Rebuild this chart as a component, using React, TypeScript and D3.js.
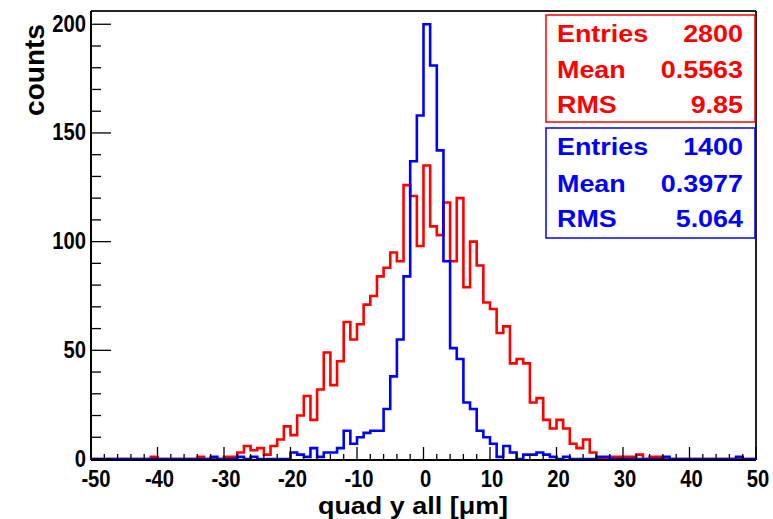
import React from "react";
import * as d3 from "d3";

// bin lower edges run from -50 to 49 (bin width 1)
const binStart = -50;
const binWidth = 1;

const redCounts = [
  0, 0, 0, 0, 0, 0, 0, 0, 0, 1,
  0, 0, 0, 0, 0, 0, 1, 0, 0, 0,
  1, 1, 3, 6, 4, 5, 2, 6, 9, 15,
  11, 20, 29, 18, 32, 49, 34, 45, 63, 55,
  62, 71, 75, 84, 88, 95, 91, 126, 121, 98,
  135, 107, 103, 118, 91, 120, 79, 100, 89, 72,
  69, 58, 61, 44, 46, 44, 26, 28, 18, 14,
  18, 14, 7, 5, 9, 3, 0, 0, 1, 1,
  1, 1, 2, 0, 1, 1, 0, 0, 0, 0,
  0, 0, 0, 0, 0, 0, 0, 0, 0, 0,
];

const blueCounts = [
  0, 0, 0, 0, 0, 0, 0, 0, 0, 0,
  0, 0, 0, 0, 0, 0, 0, 0, 1, 0,
  0, 0, 1, 0, 1, 0, 0, 0, 0, 0,
  3, 2, 1, 5, 1, 3, 3, 5, 13, 7,
  10, 12, 13, 13, 23, 38, 55, 84, 137, 158,
  200, 181, 142, 91, 51, 46, 26, 23, 13, 10,
  7, 1, 6, 3, 0, 2, 2, 3, 2, 1,
  0, 1, 0, 0, 0, 0, 1, 1, 0, 0,
  0, 0, 0, 0, 0, 0, 1, 0, 0, 0,
  0, 0, 0, 0, 0, 0, 0, 1, 0, 0,
];

const xMajorTicks = [-50, -40, -30, -20, -10, 0, 10, 20, 30, 40, 50];
const yMajorTicks = [0, 50, 100, 150, 200];

const redStats = [
  ["Entries", "2800"],
  ["Mean", "0.5563"],
  ["RMS", "9.85"],
];
const blueStats = [
  ["Entries", "1400"],
  ["Mean", "0.3977"],
  ["RMS", "5.064"],
];

const xTitle = "quad y all [\u03bcm]";
const yTitle = "counts";

const W = 773;
const H = 519;
const FX0 = 91;
const FX1 = 756;
const FY0 = 459;
const FY1 = 11;

const FONT = "'Liberation Sans', Arial, Helvetica, sans-serif";

function stepPath(counts: number[], x: d3.ScaleLinear<number, number>, y: d3.ScaleLinear<number, number>) {
  const pts: [number, number][] = [];
  counts.forEach((c, i) => {
    const lo = binStart + i * binWidth;
    pts.push([x(lo), y(c)]);
    pts.push([x(lo + binWidth), y(c)]);
  });
  return d3.line()(pts) || "";
}

export default function App() {
  const x = d3.scaleLinear().domain([-50, 50]).range([FX0, FX1]);
  const y = d3.scaleLinear().domain([0, 206.1]).range([FY0, FY1]);

  const xMinor = d3.range(-50, 50.001, 2);
  const yMinor = d3.range(0, 206, 10);

  const statBox = (stats: string[][], color: string, top: number, bottom: number, baselines: number[]) => (
    <g>
      <rect x={546} y={top} width={209} height={bottom - top} fill="white" stroke={color} strokeWidth={1.5} />
      {stats.map((s, i) => (
        <g key={i}>
          <text
            transform={`translate(557,${baselines[i]}) scale(1.17,1)`}
            fontFamily={FONT}
            fontWeight="bold"
            fontSize={23}
            fill={color}
          >
            {s[0]}
          </text>
          <text
            transform={`translate(743,${baselines[i]}) scale(1.17,1)`}
            textAnchor="end"
            fontFamily={FONT}
            fontWeight="bold"
            fontSize={23}
            fill={color}
          >
            {s[1]}
          </text>
        </g>
      ))}
    </g>
  );

  return (
    <svg width={W} height={H} style={{ position: "absolute", left: 0, top: 0, background: "white" }}>
      <rect x={0} y={0} width={W} height={H} fill="white" />
      {/* histograms */}
      <path d={stepPath(redCounts, x, y)} fill="none" stroke="#ff0000" strokeWidth={2.6} />
      <path d={stepPath(blueCounts, x, y)} fill="none" stroke="#0000ff" strokeWidth={2.6} />

      {/* frame */}
      <line x1={FX0} x2={FX1} y1={FY1} y2={FY1} stroke="#222" strokeWidth={2} />
      <line x1={FX1} x2={FX1} y1={FY1} y2={FY0 + 1} stroke="#222" strokeWidth={2} />
      <line x1={FX0} x2={FX0} y1={FY1} y2={FY0 + 1} stroke="#000" strokeWidth={2} />
      <line x1={FX0} x2={FX1} y1={FY0 + 1} y2={FY0 + 1} stroke="#000" strokeWidth={2} />

      {/* x ticks */}
      {xMinor.map((t) => {
        const major = xMajorTicks.includes(Math.round(t));
        return (
          <line key={"xm" + t} x1={x(t)} x2={x(t)} y1={FY0 + 1} y2={FY0 + 1 - (major ? 13 : 6)} stroke="#000" strokeWidth={1.3} />
        );
      })}
      {xMajorTicks.map((t) => (
        <text
          key={"xl" + t}
          transform={`translate(${x(t) + (t === -50 ? 5 : 2)},487) scale(0.92,1.05)`}
          textAnchor="middle"
          fontFamily={FONT}
          fontWeight="bold"
          fontSize={22}
          fill="#000"
        >
          {t}
        </text>
      ))}

      {/* y ticks */}
      {yMinor.map((t) => {
        const major = yMajorTicks.includes(t);
        return (
          <line key={"ym" + t} x1={FX0} x2={FX0 + (major ? 20 : 10)} y1={y(t)} y2={y(t)} stroke="#000" strokeWidth={1.3} />
        );
      })}
      {yMajorTicks.map((t) => (
        <text
          key={"yl" + t}
          transform={`translate(86,${y(t) + 7.5}) scale(0.92,1.05)`}
          textAnchor="end"
          fontFamily={FONT}
          fontWeight="bold"
          fontSize={22}
          fill="#000"
        >
          {t}
        </text>
      ))}

      {/* axis titles */}
      <text
        transform={`translate(413,514) scale(1.1,1)`}
        textAnchor="middle"
        fontFamily={FONT}
        fontWeight="bold"
        fontSize={24.5}
        fill="#000"
      >
        {xTitle}
      </text>
      <text
        transform={`translate(44,70) rotate(-90)`}
        textAnchor="middle"
        fontFamily={FONT}
        fontWeight="bold"
        fontSize={28}
        fill="#000"
      >
        {yTitle}
      </text>

      {/* stats boxes */}
      {statBox(redStats, "#ff0000", 15, 122, [41.7, 78.3, 113.3])}
      {statBox(blueStats, "#0000ff", 128, 238, [155, 191.7, 226.7])}
    </svg>
  );
}
